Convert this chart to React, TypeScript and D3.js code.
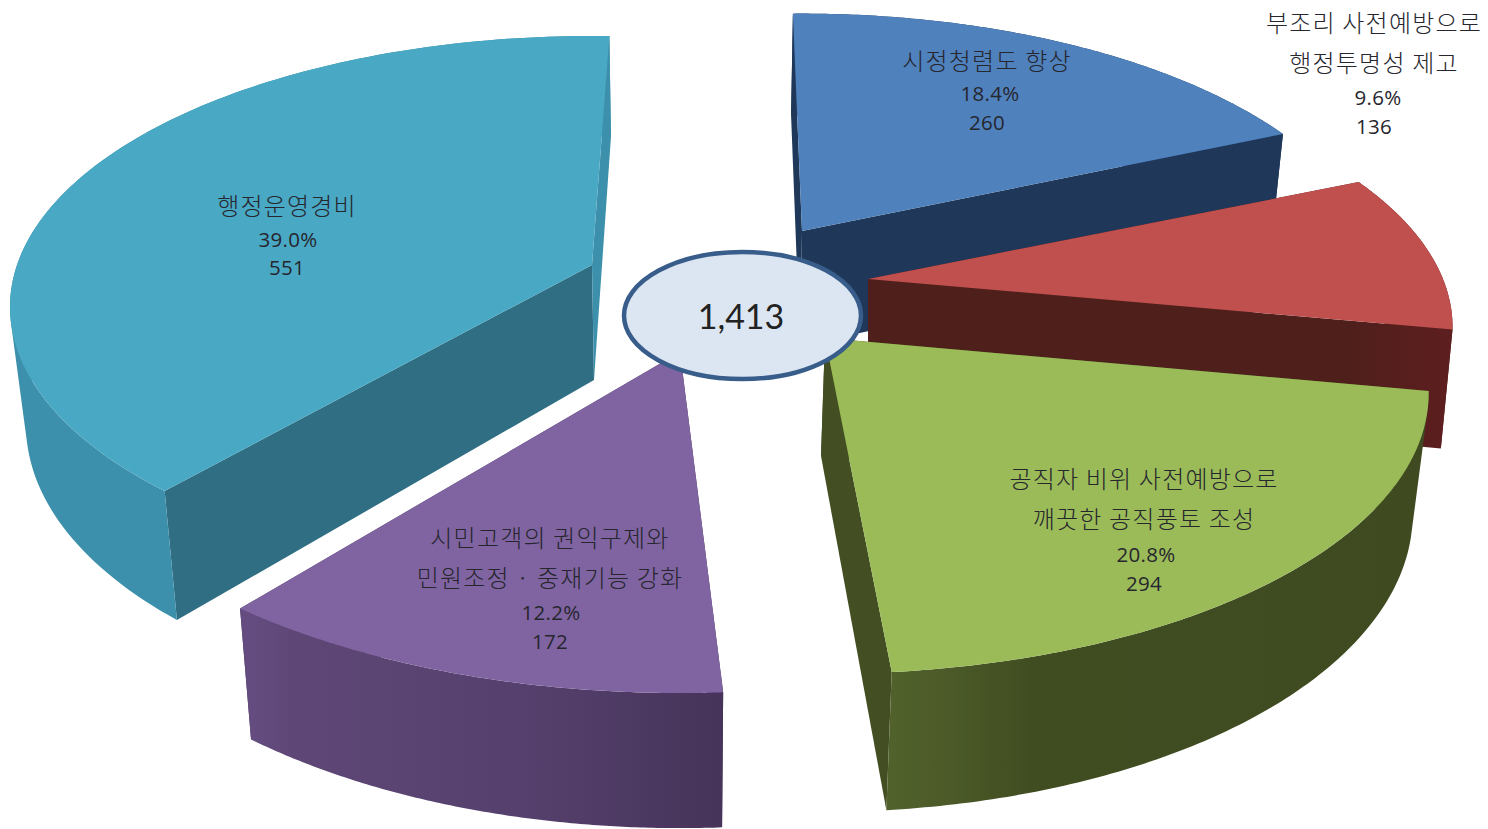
import React from "react";
import * as d3 from "d3";

// ---- data ----
const categories = [
  ["시정청렴도 향상"],
  ["부조리 사전예방으로", "행정투명성 제고"],
  ["공직자 비위 사전예방으로", "깨끗한 공직풍토 조성"],
  ["시민고객의 권익구제와", "민원조정 · 중재기능 강화"],
  ["행정운영경비"],
];
const values = [260, 136, 294, 172, 551];

// ---- styling and layout ----
const W = 1488;
const H = 829;
const perspective = [0.196, 0.18, 0.196, 0.094, 0.155];
const topColors = ["#4f81bd", "#c0504d", "#9bbb59", "#8064a2", "#49a8c4"];
const startFace = ["#1f3759", "#4f1f1c", "#434f22", "#463457", "#2f6e83"];
const endFace = ["#1f3759", "url(#side1)", "#434f22", "#463457", "#3c90ab"];
const apexTop: [number, number][] = [[802, 231], [868, 279], [825, 338], [680, 352], [592, 265]];
const apexBot: [number, number][] = [[800, 346], [868, 395], [821, 456], [680, 470], [594, 380]];
const radiusX = [567, 575, 592, 640, 575];
const radiusY = [260, 258, 270, 309, 264.5];
const botScaleX = [0.98, 0.98, 0.98, 0.975, 0.976];
const botScaleY = [1.06, 1.06, 1.06, 1.05, 1.062];
const angleTweak: [number, number][] = [[-1.1, 0], [0, 0], [0, -1], [0.7, 0], [1.4, 2]];
const drawOrder = [0, 4, 1, 3, 2];
const sideStops: [number, string][][] = [
  [[0, "#1f3759"], [1, "#1f3759"]],
  [[0, "#4f1f1c"], [1, "#5c1e1e"]],
  [[0, "#52622c"], [0.12, "#4b5a28"], [0.28, "#404d21"], [1, "#3f4a20"]],
  [[0, "#644c80"], [0.1, "#5e4776"], [0.55, "#56416e"], [1, "#46345a"]],
  [[0, "#3c90ab"], [1, "#3c90ab"]],
];
const labelX = [987, 1374, 1144, 550, 287];
const labelY = [59, 21, 477, 536, 204];
const pctX = [990, 1378, 1146, 551, 288];
const pctY = [93, 97, 554, 612, 239];
const numY = [122, 126, 583, 641, 267];
const LINE_STEP = 40.5;
const KO = "'Noto Sans CJK KR', sans-serif";
const NUM = "'Open Sans', sans-serif";

const pie = d3.pie<number>().sort(null).startAngle(0).endAngle(2 * Math.PI);
const arcs = pie(values);
const total = d3.sum(values);
const pct = d3.format(".1%");
const path = d3.line<[number, number]>();

function project(i: number, a: number, bottom: boolean): [number, number] {
  const [cx, cy] = bottom ? apexBot[i] : apexTop[i];
  const rx = radiusX[i] * (bottom ? botScaleX[i] : 1);
  const ry = radiusY[i] * (bottom ? botScaleY[i] : 1);
  const v = Math.cos(a);
  const w = 1 + perspective[i] * v;
  return [cx + (rx * Math.sin(a)) / w, cy - (ry * v) / w];
}

function Slice({ i }: { i: number }) {
  const rad = Math.PI / 180;
  const a0 = arcs[i].startAngle + angleTweak[i][0] * rad;
  const a1 = arcs[i].endAngle + angleTweak[i][1] * rad;
  const angles = d3.range(0, 121).map((t) => d3.interpolateNumber(a0, a1)(t / 120));
  const topArc = angles.map((a) => project(i, a, false));
  const botArc = angles.map((a) => project(i, a, true));
  const xs = botArc.map((p) => p[0]);
  const end = angles.length - 1;
  // outer wall as quads with one winding, so that the fold at the silhouette stays filled
  const wall = d3
    .range(0, end)
    .map((j) => {
      const q: [number, number][] = [topArc[j], topArc[j + 1], botArc[j + 1], botArc[j]];
      return path(d3.polygonArea(q) < 0 ? q.reverse() : q) + "Z";
    })
    .join("");
  return (
    <g>
      <defs>
        <linearGradient
          id={`side${i}`}
          gradientUnits="userSpaceOnUse"
          x1={d3.min(xs)}
          x2={d3.max(xs)}
          y1={0}
          y2={0}
        >
          {sideStops[i].map(([o, c]) => (
            <stop key={o} offset={o} stopColor={c} />
          ))}
        </linearGradient>
      </defs>
      <path d={path([apexTop[i], topArc[0], botArc[0], apexBot[i]]) + "Z"} fill={startFace[i]} />
      <path d={path([apexTop[i], topArc[end], botArc[end], apexBot[i]]) + "Z"} fill={endFace[i]} />
      <path d={wall} fill={`url(#side${i})`} />
      <path d={path([apexTop[i], ...topArc]) + "Z"} fill={topColors[i]} />
    </g>
  );
}

function Label({ i }: { i: number }) {
  return (
    <g fill="#26262e" textAnchor="middle" dominantBaseline="central">
      {categories[i].map((l, j) => (
        <text
          key={j}
          x={labelX[i]}
          y={labelY[i] + j * LINE_STEP}
          fontFamily={KO}
          fontSize={24}
          fontWeight={300}
          letterSpacing={1.2}
        >
          {l}
        </text>
      ))}
      <text x={pctX[i]} y={pctY[i]} fontFamily={NUM} fontSize={20.5} letterSpacing={0.3}>
        {pct(values[i] / total)}
      </text>
      <text x={labelX[i]} y={numY[i]} fontFamily={NUM} fontSize={20.5} letterSpacing={0.3}>
        {values[i]}
      </text>
    </g>
  );
}

export default function App() {
  return (
    <svg
      width={W}
      height={H}
      viewBox={`0 0 ${W} ${H}`}
      style={{ position: "absolute", left: 0, top: 0, display: "block", background: "#fff" }}
    >
      {drawOrder.map((i) => (
        <Slice key={i} i={i} />
      ))}
      <ellipse cx={742.5} cy={315.5} rx={118.5} ry={63.5} fill="#dce6f2" stroke="#385d8a" strokeWidth={4.5} />
      <text
        x={741}
        y={315}
        textAnchor="middle"
        dominantBaseline="central"
        fontFamily="Lato, sans-serif"
        fontSize={34}
        fill="#222"
      >
        {d3.format(",")(total)}
      </text>
      {categories.map((_, i) => (
        <Label key={i} i={i} />
      ))}
    </svg>
  );
}
